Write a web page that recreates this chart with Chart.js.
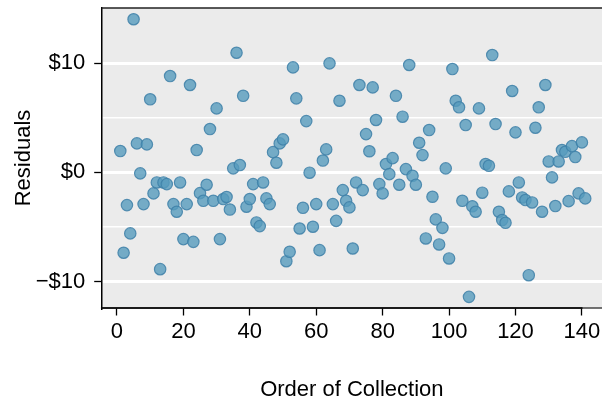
<!DOCTYPE html>
<html><head><meta charset="utf-8">
<script src="https://cdn.jsdelivr.net/npm/chart.js@4/dist/chart.umd.min.js"></script>
<style>html,body{margin:0;padding:0;background:#fff;overflow:hidden}</style>
</head><body>
<canvas id="c" width="602" height="402" style="width:602px;height:402px;display:block"></canvas>
<script>
const order = [1,2,3,4,5,6,7,8,9,10,11,12,13,14,15,16,17,18,19,20,21,22,23,24,25,26,27,28,29,30,31,32,33,34,35,36,37,38,39,40,41,42,43,44,45,46,47,48,49,50,51,52,53,54,55,56,57,58,59,60,61,62,63,64,65,66,67,68,69,70,71,72,73,74,75,76,77,78,79,80,81,82,83,84,85,86,87,88,89,90,91,92,93,94,95,96,97,98,99,100,101,102,103,104,105,106,107,108,109,110,111,112,113,114,115,116,117,118,119,120,121,122,123,124,125,126,127,128,129,130,131,132,133,134,135,136,137,138,139,140,141];
const residuals = [
  1.95,-7.35,-2.99,-5.58,14.0,2.65,-0.09,-2.9,2.56,6.68,
  -1.92,-0.92,-8.85,-0.92,-1.07,8.81,-2.9,-3.6,-0.92,-6.1,
  -2.9,7.99,-6.35,2.04,-1.9,-2.6,-1.13,3.96,-2.6,5.85,
  -6.1,-2.44,-2.25,-3.4,0.37,10.94,0.67,7.0,-3.14,-2.44,
  -1.07,-4.58,-4.91,-0.92,-2.38,-2.9,1.85,0.88,2.65,3.02,
  -8.12,-7.26,9.6,6.77,-5.13,-3.24,4.69,-0.03,-4.97,-2.9,
  -7.11,1.08,2.1,9.97,-2.9,-4.43,6.55,-1.62,-2.6,-3.2,
  -6.96,-0.92,7.99,-1.62,3.5,1.93,7.77,4.79,-1.07,-1.92,
  0.76,-0.16,1.3,7.0,-1.13,5.09,0.3,9.82,-0.31,-1.13,
  2.71,1.58,-6.04,3.87,-2.23,-4.3,-6.59,-5.07,0.37,-7.87,
  9.45,6.55,5.95,-2.6,4.33,-11.38,-3.1,-3.6,5.85,-1.86,
  0.76,0.6,10.73,4.42,-3.6,-4.36,-4.61,-1.74,7.44,3.66,
  -0.92,-2.29,-2.53,-9.4,-2.75,4.08,5.95,-3.6,7.99,1.0,
  -0.46,-3.08,1.0,2.04,1.88,-2.63,2.4,1.4,-1.92,2.74,
  -2.38
];
const xTicks = [0,20,40,60,80,100,120,140];
const yTicks = [-10,-5,0,5,10];
const yTickLabels = ["\u2212$10","","$0","","$10"];

const FONT = '"Liberation Sans", Arial, Helvetica, sans-serif';

function noPad(s) { s.paddingTop = 0; s.paddingBottom = 0; s.paddingLeft = 0; s.paddingRight = 0; }

const panel = {
  id: 'panel',
  beforeDraw(chart) {
    const {ctx, chartArea: a} = chart;
    ctx.save();
    ctx.fillStyle = '#EBEBEB';
    ctx.fillRect(a.left, a.top, a.right - a.left, a.bottom - a.top);
    ctx.restore();
  },
  afterDraw(chart) {
    const {ctx, chartArea: a, scales} = chart;
    ctx.save();
    ctx.lineWidth = 1.5;
    ctx.strokeStyle = '#222';
    ctx.beginPath();
    ctx.moveTo(a.left, a.top); ctx.lineTo(a.right, a.top);
    ctx.stroke();
    ctx.strokeStyle = '#444';
    ctx.beginPath();
    ctx.moveTo(a.left, a.bottom); ctx.lineTo(a.right, a.bottom);
    ctx.stroke();
    const x140 = scales.x.getPixelForValue(xTicks[xTicks.length - 1]);
    ctx.strokeStyle = '#000';
    ctx.beginPath();
    ctx.moveTo(a.left - 0.75, a.bottom); ctx.lineTo(x140 + 0.6, a.bottom);
    ctx.stroke();
    ctx.restore();
  }
};

new Chart(document.getElementById('c'), {
  type: 'scatter',
  data: {
    datasets: [{
      data: order.map((o, i) => ({x: o, y: residuals[i]})),
      backgroundColor: 'rgba(86,155,189,0.8)',
      borderColor: 'rgba(62,128,168,0.85)',
      borderWidth: 1.2,
      pointRadius: 5.7,
      pointHoverRadius: 5.7
    }]
  },
  options: {
    responsive: false,
    animation: false,
    devicePixelRatio: 1,
    layout: {autoPadding: false, padding: {left: 0, right: 0, top: 8, bottom: 0}},
    plugins: {legend: {display: false}, tooltip: {enabled: false}},
    scales: {
      x: {
        type: 'linear',
        min: -4.6,
        max: 146.05,
        afterBuildTicks: s => { s.ticks = xTicks.map(v => ({value: v})); },
        afterFit: s => { s.height = 94; noPad(s); },
        grid: {drawOnChartArea: false, drawTicks: true, tickLength: 7.5, tickColor: '#000', tickWidth: 1.3, color: '#000'},
        border: {display: false},
        ticks: {font: {family: FONT, size: 22}, color: '#000', padding: 3.7, maxRotation: 0, autoSkip: false},
        title: {display: true, text: 'Order of Collection', font: {family: FONT, size: 22, lineHeight: 1}, color: '#000', padding: {top: 0, bottom: 0.6}}
      },
      y: {
        type: 'linear',
        min: -12.4,
        max: 15.03,
        afterBuildTicks: s => { s.ticks = yTicks.map(v => ({value: v})); },
        afterFit: s => { s.width = 101.7; noPad(s); },
        grid: {
          color: '#FFFFFF',
          lineWidth: c => (c.tick && c.tick.value % 10 === 0) ? 3 : 1.5,
          drawTicks: true,
          tickLength: 7.5,
          tickWidth: 1.3,
          tickColor: c => (c.tick && c.tick.value % 10 === 0) ? '#000' : 'rgba(0,0,0,0)'
        },
        border: {display: true, color: '#000', width: 1.5},
        ticks: {
          font: {family: FONT, size: 22}, color: '#000', padding: 9, autoSkip: false,
          callback: (v, i) => yTickLabels[i]
        },
        title: {display: true, text: 'Residuals', font: {family: FONT, size: 22, lineHeight: 1}, color: '#000', padding: {top: 12.5, bottom: 0}}
      }
    }
  },
  plugins: [panel]
});
</script>
</body></html>
